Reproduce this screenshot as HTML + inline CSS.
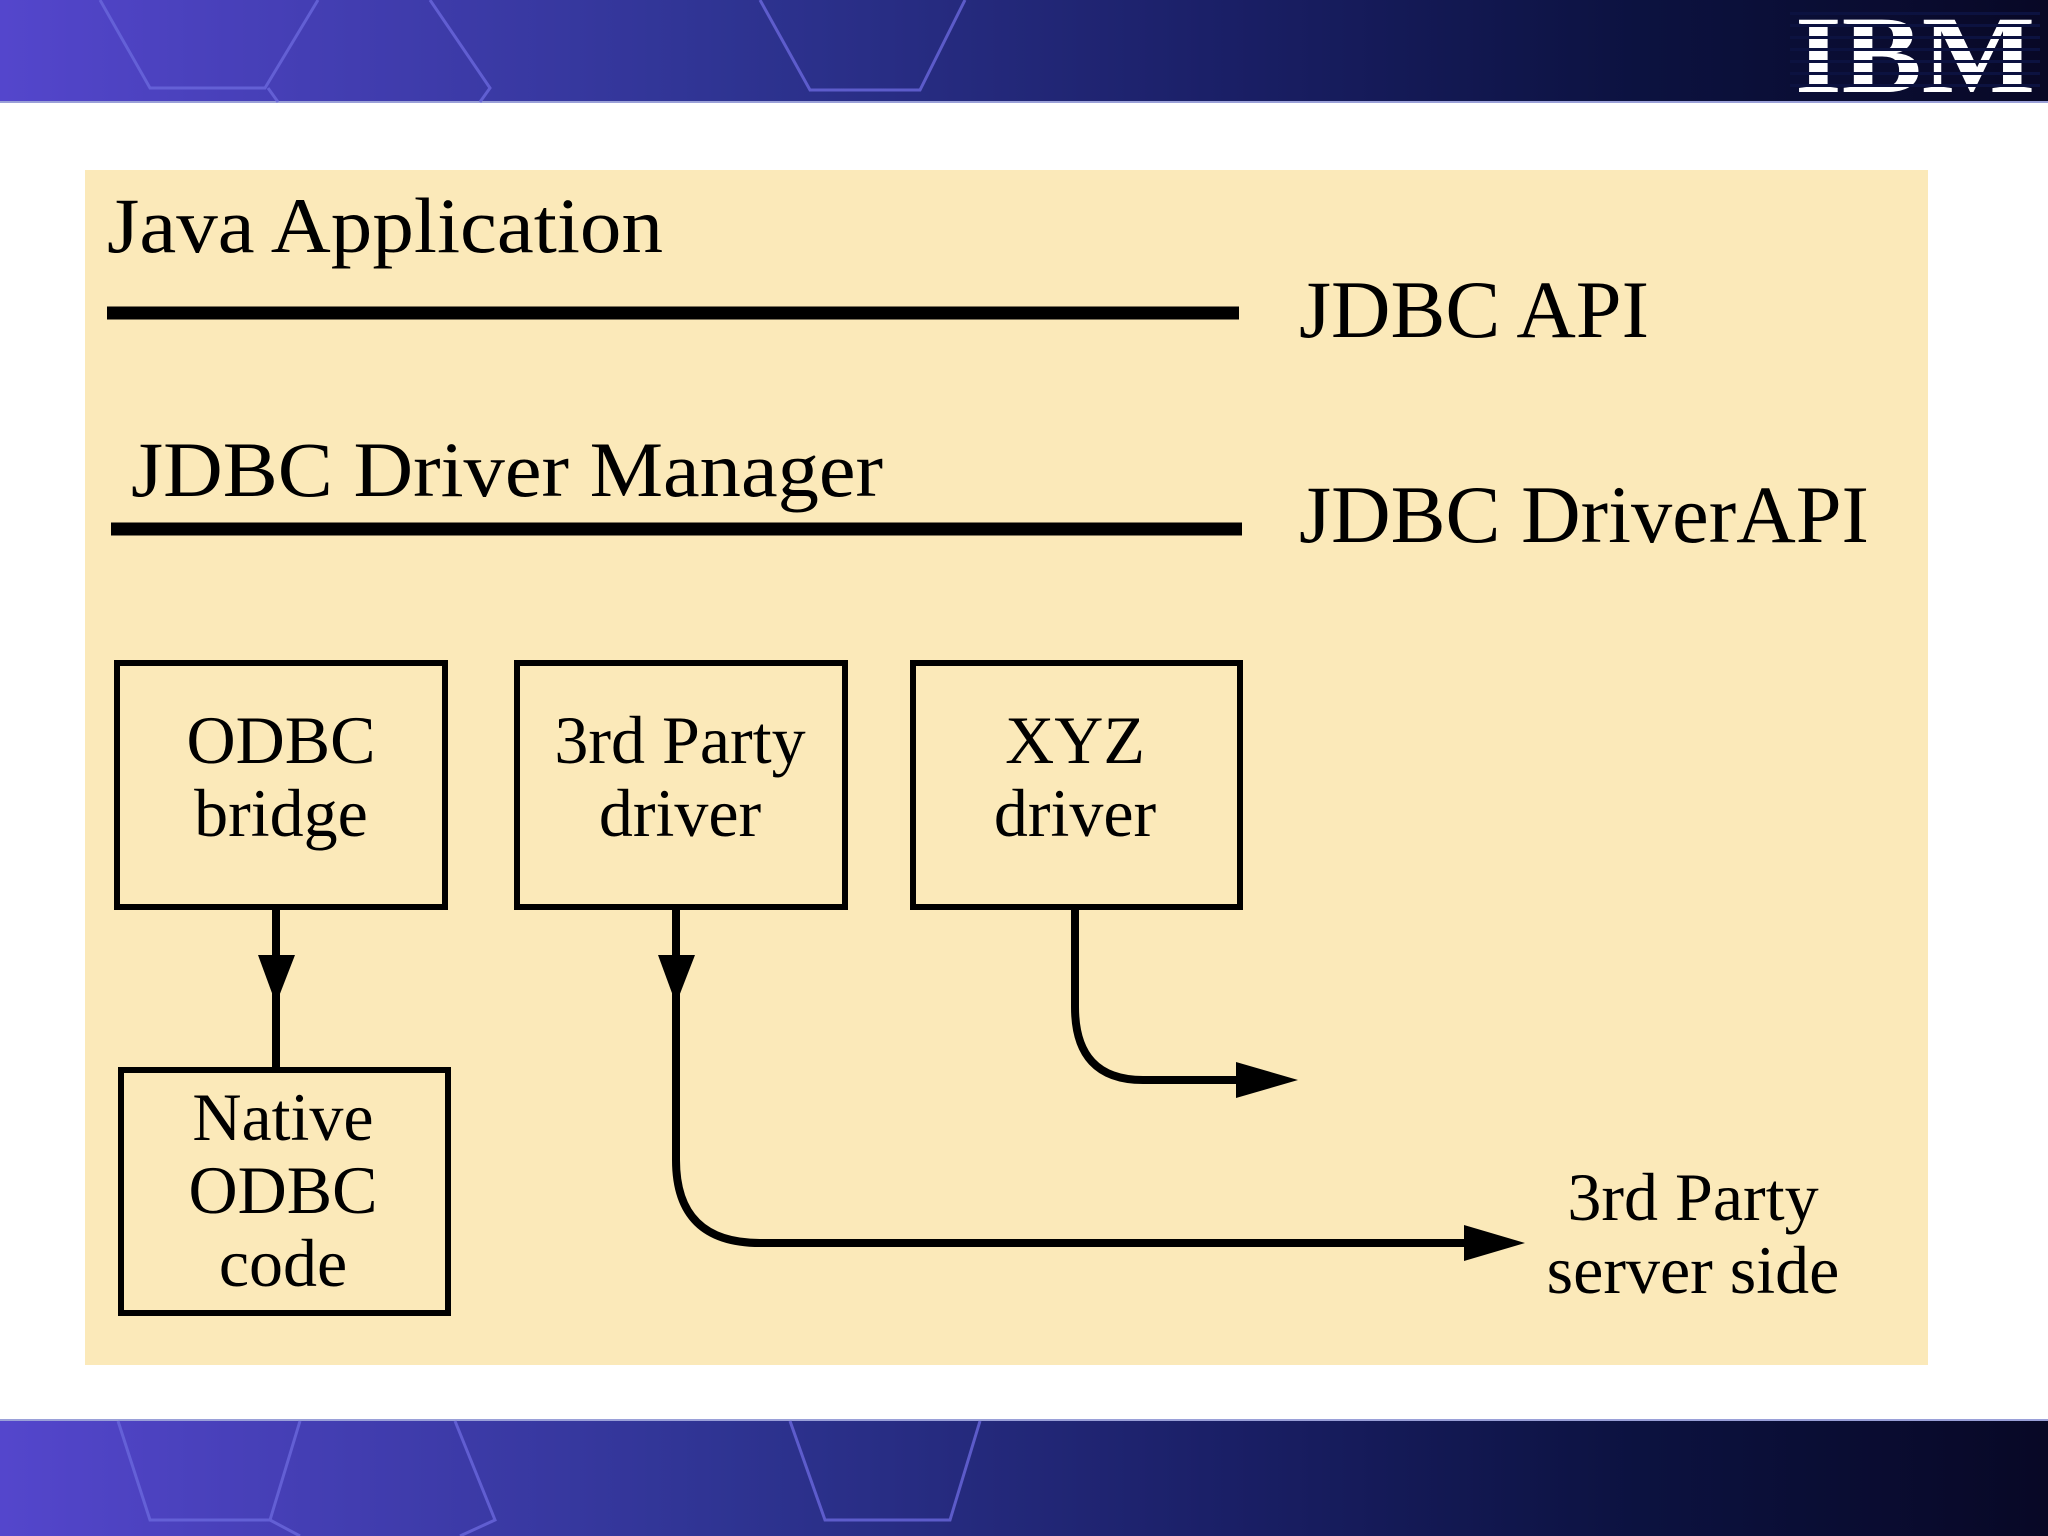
<!DOCTYPE html>
<html><head><meta charset="utf-8"><style>
html,body{margin:0;padding:0;width:2048px;height:1536px;overflow:hidden;background:#fff}
</style></head><body>
<svg width="2048" height="1536" viewBox="0 0 2048 1536" xmlns="http://www.w3.org/2000/svg">
<defs>
<linearGradient id="g" x1="0" x2="1" y1="0" y2="0">
<stop offset="0" stop-color="#5446cc"/>
<stop offset="0.35" stop-color="#2f3493"/>
<stop offset="0.6" stop-color="#1a1f66"/>
<stop offset="0.8" stop-color="#0c1240"/>
<stop offset="1" stop-color="#080826"/>
</linearGradient>
</defs>
<rect x="0" y="0" width="2048" height="102" fill="url(#g)"/>
<rect x="0" y="101" width="2048" height="2" fill="#9aa0d8"/>
<rect x="0" y="1420" width="2048" height="116" fill="url(#g)"/>
<rect x="0" y="1419" width="2048" height="2" fill="#9aa0d8"/>
<g stroke="#6a68dc" stroke-width="3" fill="none" opacity="0.8">
<path d="M100 0 L150 88 L265 88 L318 0 M268 88 L278 102 M430 0 L490 88 L480 102"/>
<path d="M760 0 L810 90 L920 90 L965 0"/>
<path d="M118 1421 L150 1520 L270 1520 L300 1421 M270 1520 L300 1536 M455 1421 L495 1520 L460 1536"/>
<path d="M790 1421 L825 1520 L950 1520 L980 1421"/>
</g>
<g fill="#fff" font-family="Liberation Serif, serif" font-weight="bold">
<text x="1795" y="92" font-size="110" textLength="240" lengthAdjust="spacingAndGlyphs">IBM</text>
</g>
<g fill="#0c1240">
<rect x="1790" y="12" width="250" height="3"/><rect x="1790" y="24" width="250" height="3"/><rect x="1790" y="36" width="250" height="3"/><rect x="1790" y="48" width="250" height="3"/><rect x="1790" y="60" width="250" height="3"/><rect x="1790" y="72" width="250" height="3"/><rect x="1790" y="84" width="250" height="3"/>
</g>
<rect x="85" y="170" width="1843" height="1195" fill="#fbe9b9"/>
<g font-family="Liberation Serif, serif" fill="#000">
<text x="107" y="252" font-size="78" textLength="556" lengthAdjust="spacingAndGlyphs">Java Application</text>
<text x="1299" y="337" font-size="82" textLength="350" lengthAdjust="spacingAndGlyphs">JDBC API</text>
<text x="131" y="496" font-size="78" textLength="752" lengthAdjust="spacingAndGlyphs">JDBC Driver Manager</text>
<text x="1299" y="542" font-size="82" textLength="570" lengthAdjust="spacingAndGlyphs">JDBC DriverAPI</text>
<g font-size="68" text-anchor="middle">
<text x="281" y="763">ODBC</text><text x="281" y="836">bridge</text>
<text x="680" y="763">3rd Party</text><text x="680" y="836">driver</text>
<text x="1075" y="763">XYZ</text><text x="1075" y="836">driver</text>
<text x="283" y="1140">Native</text><text x="283" y="1213">ODBC</text><text x="283" y="1286">code</text>
<text x="1693" y="1220">3rd Party</text><text x="1693" y="1293">server side</text>
</g>
</g>
<g fill="none" stroke="#000">
<line x1="107" y1="313" x2="1239" y2="313" stroke-width="13"/>
<line x1="111" y1="529" x2="1242" y2="529" stroke-width="13"/>
<g stroke-width="6">
<rect x="117" y="663" width="328" height="244"/>
<rect x="517" y="663" width="328" height="244"/>
<rect x="913" y="663" width="327" height="244"/>
<rect x="121" y="1070" width="327" height="243"/>
</g>
<g stroke-width="8">
<line x1="276" y1="907" x2="276" y2="1070"/>
<path d="M676 907 L676 1160 Q676 1243 760 1243 L1470 1243"/>
<path d="M1075 907 L1075 1007 Q1075 1080 1143 1080 L1240 1080"/>
</g>
</g>
<g fill="#000">
<polygon points="258,955 295,955 276,1004"/>
<polygon points="658,955 695,955 676,1004"/>
<polygon points="1236,1062 1236,1098 1298,1080"/>
<polygon points="1464,1225 1464,1261 1525,1243"/>
</g>
</svg>
</body></html>
